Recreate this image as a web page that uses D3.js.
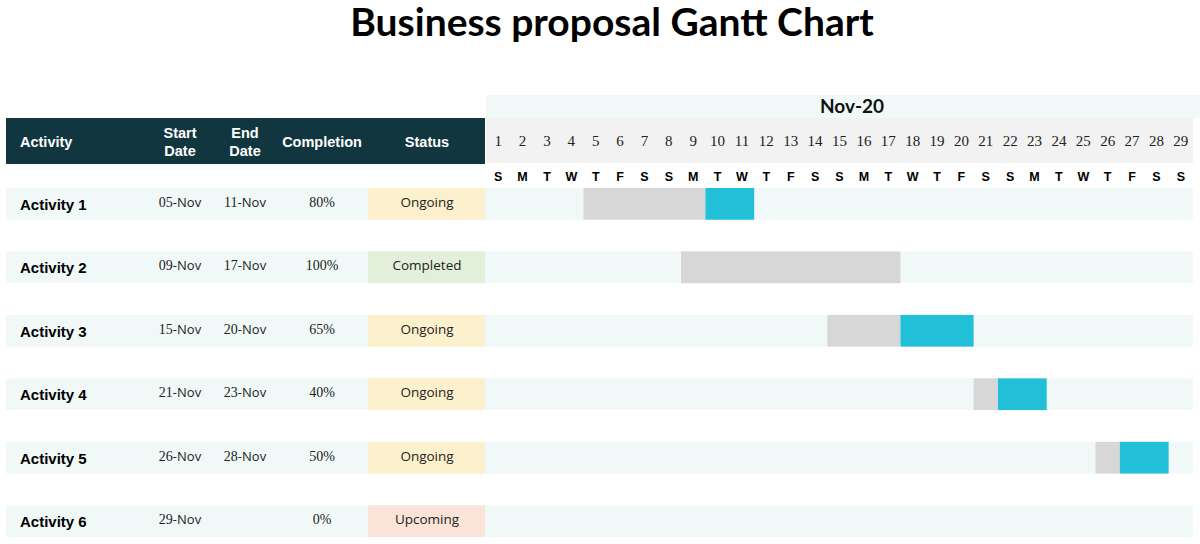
<!DOCTYPE html>
<html>
<head>
<meta charset="utf-8">
<script src="https://cdn.jsdelivr.net/npm/d3@7"></script>
<style>
  body { margin: 0; background: #fff; }
  svg { display: block; }
</style>
</head>
<body>
<div id="chart"></div>
<script>
// table data
var activities = ["Activity 1", "Activity 2", "Activity 3", "Activity 4", "Activity 5", "Activity 6"];
var startDay = [5, 9, 15, 21, 26, 29];
var endDay = [11, 17, 20, 23, 28, null];
var startLabels = ["05-Nov", "09-Nov", "15-Nov", "21-Nov", "26-Nov", "29-Nov"];
var endLabels = ["11-Nov", "17-Nov", "20-Nov", "23-Nov", "28-Nov", ""];
var completion = ["80%", "100%", "65%", "40%", "50%", "0%"];
var statusList = ["Ongoing", "Completed", "Ongoing", "Ongoing", "Ongoing", "Upcoming"];
// days shown grey (done) before the blue part
var doneDays = [5, 9, 3, 1, 1, 0];

// calendar
var days = d3.range(1, 30);
var weekdays = ["S","M","T","W","T","F","S","S","M","T","W","T","F","S","S","M","T","W","T","F","S","S","M","T","W","T","F","S","S"];
var monthLabel = "Nov-20";

var statusColor = {Ongoing: "#fdf0cd", Completed: "#e2efda", Upcoming: "#fbe4d7"};

var W = 1200, H = 544;
var svg = d3.select("#chart").append("svg")
    .attr("width", W)
    .attr("height", H);

svg.append("text")
    .attr("x", 612)
    .attr("y", 36)
    .attr("text-anchor", "middle")
    .style("font-family", "Lato")
    .style("font-weight", "bold")
    .style("font-size", "39px")
    .attr("fill", "#000")
    .text("Business proposal Gantt Chart");

var x = d3.scaleBand()
    .domain(days)
    .range([486, 1193]);

var y = d3.scaleBand()
    .domain(activities)
    .range([188, 537])
    .paddingInner(0.5)
    .paddingOuter(0);

// month band
svg.append("rect")
    .attr("x", 486).attr("y", 95)
    .attr("width", W - 486).attr("height", 23)
    .attr("fill", "#f0f8f8");
svg.append("text")
    .attr("x", 852).attr("y", 113)
    .attr("text-anchor", "middle")
    .style("font-family", "Lato")
    .style("font-weight", "bold")
    .style("font-size", "19px")
    .attr("fill", "#111")
    .text(monthLabel);

// table header
svg.append("rect")
    .attr("x", 6).attr("y", 118)
    .attr("width", 479).attr("height", 46)
    .attr("fill", "#12363f");

var headers = [
    {lines: ["Activity"], x: 20, anchor: "start"},
    {lines: ["Start", "Date"], x: 180, anchor: "middle"},
    {lines: ["End", "Date"], x: 245, anchor: "middle"},
    {lines: ["Completion"], x: 322, anchor: "middle"},
    {lines: ["Status"], x: 427, anchor: "middle"}
];
headers.forEach(function(h) {
    var t = svg.append("text")
        .attr("x", h.x)
        .attr("text-anchor", h.anchor)
        .style("font-family", "Liberation Sans")
        .style("font-weight", "bold")
        .style("font-size", "14.5px")
        .attr("fill", "#fff");
    if (h.lines.length == 1) {
        t.attr("y", 147).text(h.lines[0]);
    } else {
        t.attr("y", 138).text(h.lines[0]);
        t.append("tspan").attr("x", h.x).attr("dy", 18).text(h.lines[1]);
    }
});

// day numbers
svg.append("rect")
    .attr("x", 486).attr("y", 118)
    .attr("width", 707).attr("height", 45)
    .attr("fill", "#f2f2f2");

svg.append("g")
    .attr("transform", "translate(0,146)")
    .call(d3.axisTop(x).tickSize(0).tickPadding(0))
    .call(function(g) { g.select(".domain").remove(); })
    .selectAll("text")
    .attr("y", 0)
    .style("font-family", "Liberation Serif")
    .style("font-size", "15px")
    .attr("fill", "#222");

svg.append("g")
    .attr("transform", "translate(0,181)")
    .call(d3.axisTop(x).tickSize(0).tickPadding(0).tickFormat(function(d, i) { return weekdays[i]; }))
    .call(function(g) { g.select(".domain").remove(); })
    .selectAll("text")
    .attr("y", 0)
    .style("font-family", "Liberation Sans")
    .style("font-weight", "bold")
    .style("font-size", "12.5px")
    .attr("fill", "#000");

// rows
var rows = svg.selectAll("g.row")
    .data(activities)
    .enter().append("g")
    .attr("class", "row");

rows.append("rect")
    .attr("x", 6)
    .attr("y", function(d) { return y(d); })
    .attr("width", 1193 - 6)
    .attr("height", y.bandwidth())
    .attr("fill", "#f1f8f8");

rows.append("rect")
    .attr("x", 368)
    .attr("y", function(d) { return y(d); })
    .attr("width", 117)
    .attr("height", y.bandwidth())
    .attr("fill", function(d, i) { return statusColor[statusList[i]]; });

var mid = function(d) { return y(d) + y.bandwidth() / 2; };

rows.append("text")
    .attr("x", 20)
    .attr("y", function(d) { return mid(d) + 6; })
    .style("font-family", "Liberation Sans")
    .style("font-weight", "bold")
    .style("font-size", "15px")
    .attr("fill", "#000")
    .text(function(d) { return d; });

function dateText(sel, labels, cx) {
    var t = sel.append("text")
        .attr("x", cx)
        .attr("y", function(d) { return mid(d) + 3; })
        .attr("text-anchor", "middle")
        .style("font-size", "13px")
        .attr("fill", "#222");
    t.append("tspan")
        .style("font-family", "Liberation Serif")
        .style("font-size", "14px")
        .text(function(d, i) { return labels[i].split("-")[0]; });
    t.append("tspan")
        .style("font-family", "Open Sans")
        .text(function(d, i) { return labels[i] ? "-" + labels[i].split("-")[1] : ""; });
}
dateText(rows, startLabels, 180);
dateText(rows, endLabels, 245);

rows.append("text")
    .attr("x", 322)
    .attr("y", function(d) { return mid(d) + 3; })
    .attr("text-anchor", "middle")
    .style("font-family", "Liberation Serif")
    .style("font-size", "14px")
    .attr("fill", "#222")
    .text(function(d, i) { return completion[i]; });

rows.append("text")
    .attr("x", 427)
    .attr("y", function(d) { return mid(d) + 3; })
    .attr("text-anchor", "middle")
    .style("font-family", "Open Sans")
    .style("font-size", "13.5px")
    .attr("fill", "#222")
    .text(function(d, i) { return statusList[i]; });

// gantt bars
rows.append("rect")
    .attr("x", function(d, i) { return x(startDay[i]); })
    .attr("y", function(d) { return y(d); })
    .attr("width", function(d, i) { return doneDays[i] * x.bandwidth(); })
    .attr("height", y.bandwidth())
    .attr("fill", "#d7d7d7");

rows.append("rect")
    .attr("x", function(d, i) { return x(startDay[i] + doneDays[i]) || 0; })
    .attr("y", function(d) { return y(d); })
    .attr("width", function(d, i) {
        if (endDay[i] == null) return 0;
        return (endDay[i] - startDay[i] + 1 - doneDays[i]) * x.bandwidth();
    })
    .attr("height", y.bandwidth())
    .attr("fill", "#22bfd9");
</script>
</body>
</html>
